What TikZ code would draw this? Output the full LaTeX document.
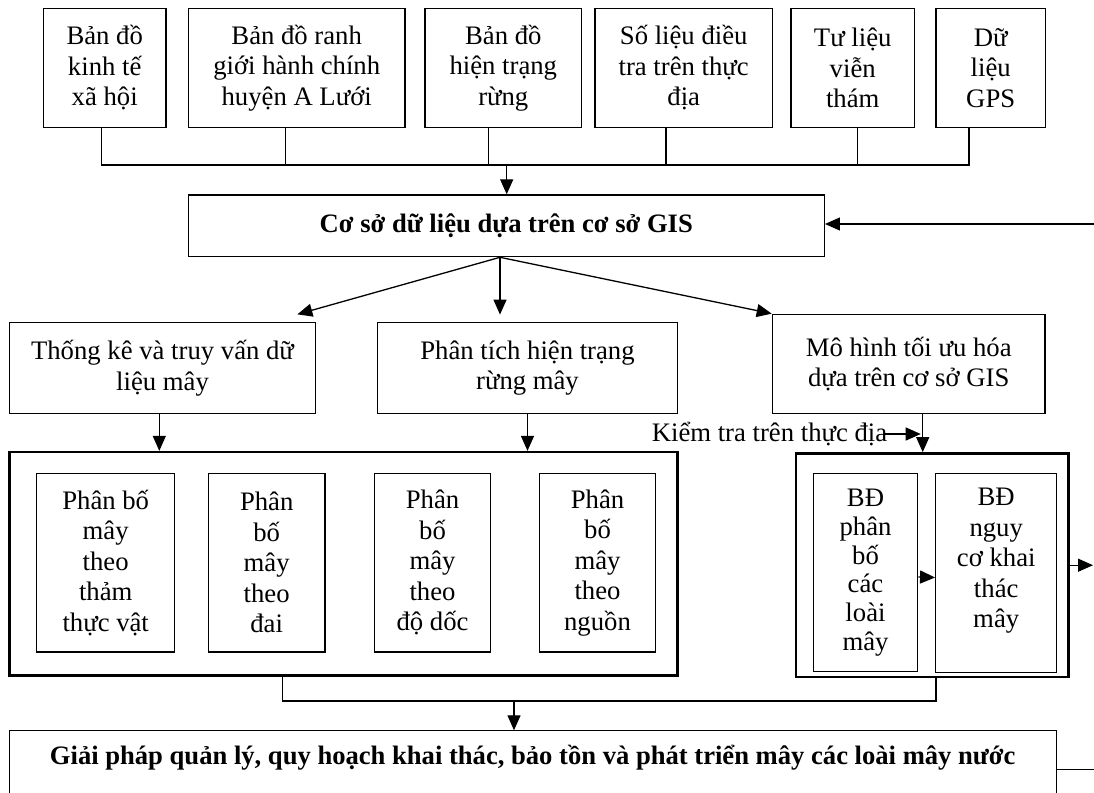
\documentclass[tikz,border=0pt]{standalone}
\usepackage{fontspec}
\setmainfont{Liberation Serif}
\usetikzlibrary{arrows.meta}
\begin{document}
\begin{tikzpicture}[x=1pt,y=-1pt,
  box/.style={draw,line width=1.3pt,align=center,inner sep=2pt,font=\fontsize{26.7}{30.5}\selectfont},
  thick box/.style={draw,line width=2.4pt},
  lbl/.style={align=center,inner sep=0pt,font=\fontsize{26.7}{30.5}\selectfont},
  wire/.style={line width=1.3pt},
  arr/.style={line width=1.3pt,-{Triangle[length=15pt,width=13pt]}}]
\useasboundingbox[fill=white] (0,0) rectangle (1094,792);

% top row
\node[box,minimum width=122.7pt,minimum height=119.4pt] (b1) at (104.7,68) {Bản đồ\\kinh tế\\xã hội};
\node[box,minimum width=216.7pt,minimum height=119.4pt] (b2) at (296.7,68) {Bản đồ ranh\\giới hành chính\\huyện A Lưới};
\node[box,minimum width=156.7pt,minimum height=119.4pt] (b3) at (503.3,68) {Bản đồ\\hiện trạng\\rừng};
\node[box,minimum width=177.3pt,minimum height=119.4pt] (b4) at (683.7,68) {Số liệu điều\\tra trên thực\\địa};
\node[box,minimum width=123.3pt,minimum height=119.4pt] (b5) at (852.7,68) {Tư liệu\\viễn\\thám};
\node[box,minimum width=109.3pt,minimum height=119.4pt] (b6) at (990.7,68) {Dữ\\liệu\\GPS};

\coordinate (busL) at (101.7,165);
\coordinate (busR) at (969,165);
\coordinate (busA) at (506.7,165);
\draw[wire] ([xshift=-3pt]b1.south) -- (busL) -- (busR) -- ([xshift=-21.7pt]b6.south);
\draw[wire] ([xshift=-11pt]b2.south) -- ++(0,37.3);
\draw[wire] ([xshift=-15pt]b3.south) -- ++(0,37.3);
\draw[wire] ([xshift=-17.7pt]b4.south) -- ++(0,37.3);
\draw[wire] ([xshift=5pt]b5.south) -- ++(0,37.3);

% GIS database
\node[box,minimum width=636pt,minimum height=61.7pt,font=\fontsize{26.6}{30}\selectfont\bfseries] (gis) at (506.3,225.8) {Cơ sở dữ liệu dựa trên cơ sở GIS};
\draw[arr] (busA) -- (busA |- gis.north);
\coordinate (fbR) at (1096,224);
\draw[arr] (fbR) -- (gis.east |- fbR);

% second row
\node[box,minimum width=306.4pt,minimum height=90.6pt] (tk) at (162.5,368) {Thống kê và truy vấn dữ\\liệu mây};
\node[box,minimum width=299.6pt,minimum height=90.6pt] (pt) at (527.5,368) {Phân tích hiện trạng\\rừng mây};
\node[box,minimum width=272.7pt,minimum height=99pt] (mh) at (908.7,363.8) {Mô hình tối ưu hóa\\dựa trên cơ sở GIS};

\coordinate (sp) at ([xshift=-6.3pt]gis.south);
\draw[arr] (sp) -- ([xshift=-19pt,yshift=7.7pt]tk.north east);
\draw[arr] (sp) -- ++(0,57.3);
\draw[arr] (sp) -- (mh.north west);

% containers
\node[thick box,minimum width=668pt,minimum height=223.3pt] (c1) at (343.3,563.7) {};
\node[thick box,minimum width=272.3pt,minimum height=223.7pt] (c2) at (932.2,565.2) {};

\node[box,minimum width=138pt,minimum height=178.7pt] (pa) at (105.7,562.7) {Phân bố\\mây\\theo\\thảm\\thực vật};
\node[box,minimum width=116.7pt,minimum height=178.7pt] (pb) at (266.7,562.7) {Phân\\bố\\mây\\theo\\đai};
\node[box,minimum width=116.4pt,minimum height=178.7pt] (pc) at (432.5,562.7) {Phân\\bố\\mây\\theo\\độ dốc};
\node[box,minimum width=116.4pt,minimum height=178.7pt] (pd) at (597.5,562.7) {Phân\\bố\\mây\\theo\\nguồn};

\node[box,minimum width=104.4pt,minimum height=198pt,font=\fontsize{26.7}{28.7}\selectfont] (be) at (865.5,572.7) {BĐ\\phân\\bố\\các\\loài\\mây};
\node[box,minimum width=121pt,minimum height=199pt] (bf) at (996.2,573.2) {BĐ\\nguy\\cơ khai\\thác\\mây\\\mbox{}};

\coordinate (a1) at ([xshift=-3.2pt]tk.south);
\coordinate (a2) at (pt.south);
\coordinate (a3) at ([xshift=14pt]mh.south);
\draw[arr] (a1) -- (a1 |- c1.north);
\draw[arr] (a2) -- (a2 |- c1.north);
\draw[arr] (a3) -- (a3 |- c2.north);

\node[lbl] (kt) at (769.5,434) {Kiểm tra trên thực địa};
\draw[arr] ([xshift=-3pt]kt.east) -- ([xshift=-2pt]a3 |- kt.east);

\draw[arr] ([yshift=-4.3pt]be.east) -- ([yshift=-4.3pt]bf.west);
\coordinate (outR) at (1093,565.2);
\draw[arr] (c2.east) -- (outR);

% bottom box
\node[lbl,minimum width=1046.7pt,minimum height=54.4pt,font=\fontsize{26.6}{30}\selectfont\bfseries] (gp) at (532.7,757.7) {Giải pháp quản lý, quy hoạch khai thác, bảo tồn và phát triển mây các loài mây nước};
\draw[wire] ([yshift=-40pt]gp.south west) -- (gp.north west) -- (gp.north east) -- ([yshift=-40pt]gp.south east);

\coordinate (j1) at ([xshift=-60.6pt]c1.south);
\coordinate (j2) at ([xshift=3.8pt]c2.south);
\coordinate (jA) at (514,701);
\draw[wire] (j1) |- (jA) -| (j2);
\draw[arr] (jA) -- (jA |- gp.north);

\coordinate (outB) at (1096,769.3);
\draw[wire] ([yshift=-11.6pt]gp.east) -- (outB);
\end{tikzpicture}
\end{document}
